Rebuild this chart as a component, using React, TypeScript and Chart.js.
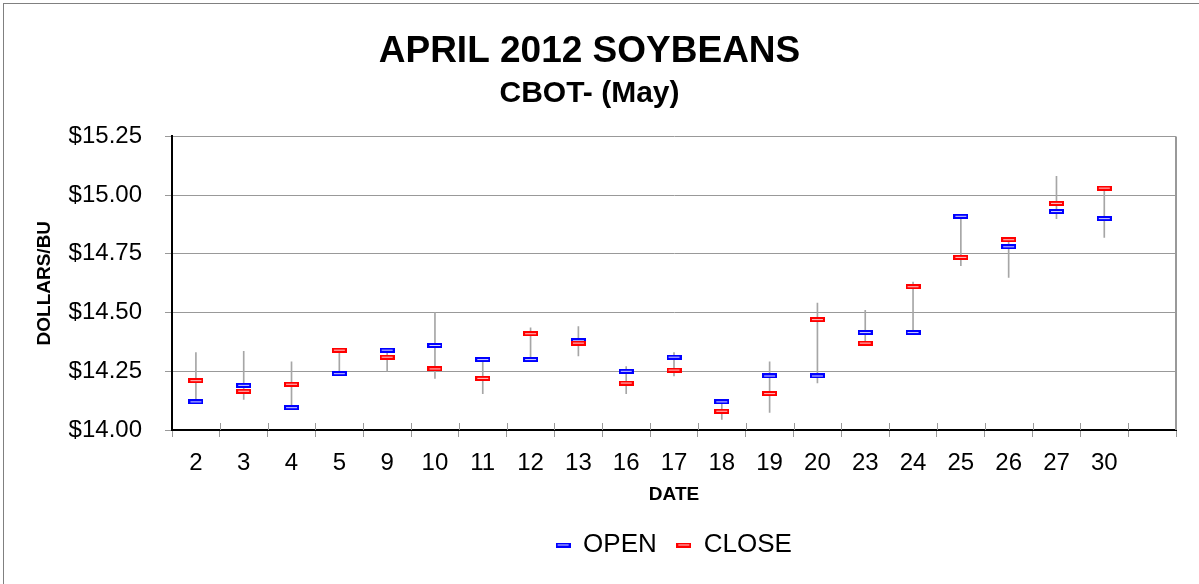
import React, { useEffect, useRef } from "react";
import { Chart, registerables } from "chart.js";

Chart.register(...registerables);

const dateLabels = ["2", "3", "4", "5", "9", "10", "11", "12", "13", "16", "17", "18", "19", "20", "23", "24", "25", "26", "27", "30", ""];
const openValues = [14.12, 14.19, 14.095, 14.24, 14.34, 14.36, 14.30, 14.30, 14.38, 14.25, 14.31, 14.12, 14.23, 14.23, 14.415, 14.415, 14.91, 14.78, 14.93, 14.90, null];
const closeValues = [14.21, 14.165, 14.195, 14.34, 14.31, 14.26, 14.22, 14.41, 14.37, 14.20, 14.255, 14.08, 14.155, 14.47, 14.37, 14.61, 14.735, 14.81, 14.965, 15.03, null];
const highValues = [14.33, 14.335, 14.29, 14.34, 14.34, 14.50, 14.30, 14.435, 14.44, 14.27, 14.33, 14.12, 14.29, 14.54, 14.51, 14.63, 14.91, 14.81, 15.08, 15.03, null];
const lowValues = [14.12, 14.13, 14.095, 14.24, 14.25, 14.22, 14.155, 14.30, 14.315, 14.155, 14.23, 14.045, 14.075, 14.20, 14.36, 14.415, 14.70, 14.65, 14.90, 14.82, null];
const yTicks = [14.0, 14.25, 14.5, 14.75, 15.0, 15.25];

function makeMarker(outer: string, inner: string) {
  const c = document.createElement("canvas");
  c.width = 15;
  c.height = 5;
  const ctx = c.getContext("2d")!;
  ctx.fillStyle = outer;
  ctx.fillRect(0, 0, 15, 5);
  ctx.fillStyle = inner;
  ctx.fillRect(2, 2, 11, 1);
  return c;
}

const framePlugin = {
  id: "frame",
  afterDraw(chart: any) {
    const { ctx, chartArea } = chart;
    const xs = chart.scales.x;
    ctx.save();
    ctx.strokeStyle = "#999999";
    ctx.lineWidth = 2;
    ctx.beginPath();
    ctx.moveTo(chartArea.right, chartArea.top);
    ctx.lineTo(chartArea.right, chartArea.bottom);
    ctx.stroke();
    ctx.lineWidth = 1;
    const n = dateLabels.length;
    const step = (xs.right - xs.left) / n;
    ctx.beginPath();
    for (let i = 1; i <= n; i++) {
      const x = Math.round(xs.left + i * step) + 0.5;
      ctx.moveTo(x, chartArea.bottom - 7);
      ctx.lineTo(x, chartArea.bottom);
    }
    ctx.stroke();
    ctx.restore();
  },
};

export default function App() {
  const ref = useRef<HTMLCanvasElement | null>(null);
  useEffect(() => {
    if (!ref.current) return;
    Chart.defaults.font.family = "'Liberation Sans', Arial, sans-serif";
    Chart.defaults.color = "#000000";
    const blue = makeMarker("#0000ff", "#d8d8ff");
    const red = makeMarker("#ff0000", "#ffd0d0");
    const rangeData = lowValues.map((l, i) => (l == null || highValues[i] == null ? null : [l, highValues[i] as number]));
    const chart = new Chart(ref.current, {
      type: "bar",
      data: {
        labels: dateLabels,
        datasets: [
          {
            type: "line",
            label: "OPEN",
            data: openValues,
            showLine: false,
            pointStyle: blue as any,
            order: 1,
          },
          {
            type: "line",
            label: "CLOSE",
            data: closeValues,
            showLine: false,
            pointStyle: red as any,
            order: 0,
          },
          {
            type: "bar",
            label: "RANGE",
            data: rangeData as any,
            backgroundColor: "#a6a6a6",
            barThickness: 1,
            order: 2,
          },
        ],
      },
      options: {
        responsive: false,
        animation: false,
        layout: { padding: { left: 0, right: 2, top: 0, bottom: 16 } },
        plugins: {
          tooltip: { enabled: false },
          title: {
            display: true,
            text: "APRIL 2012 SOYBEANS",
            font: { size: 37, weight: "bold" },
            padding: { top: 30, bottom: 0 },
          },
          subtitle: {
            display: true,
            text: "CBOT- (May)",
            color: "#000000",
            font: { size: 30, weight: "bold" },
            padding: { top: 1, bottom: 25 },
          },
          legend: {
            position: "bottom",
            fullSize: false,
            labels: {
              usePointStyle: true,
              boxWidth: 14,
              boxHeight: 14,
              padding: 20,
              font: { size: 26 },
              filter: (item: any) => item.text !== "RANGE",
              sort: (a: any, b: any) => a.datasetIndex - b.datasetIndex,
            },
          },
        },
        scales: {
          x: {
            offset: true,
            grid: {
              offset: true,
              drawOnChartArea: false,
              drawTicks: true,
              tickLength: 7,
              color: "#999999",
            },
            border: { color: "#000000", width: 2 },
            ticks: { font: { size: 24 }, padding: 12, maxRotation: 0, autoSkip: false },
            title: {
              display: true,
              text: "DATE",
              font: { size: 19, weight: "bold" },
              padding: { top: 0, bottom: 6 },
            },
            afterFit: (scale: any) => {
              scale.height = 82;
            },
          },
          y: {
            min: 14,
            max: 15.25,
            afterBuildTicks: (scale: any) => {
              scale.ticks = yTicks.map((v) => ({ value: v }));
            },
            grid: { color: "#999999", lineWidth: 1, tickLength: 7 },
            border: { color: "#000000", width: 2 },
            ticks: {
              font: { size: 24 },
              padding: 23,
              callback: (v: any) => "$" + Number(v).toFixed(2),
            },
            title: {
              display: true,
              text: "DOLLARS/BU",
              font: { size: 19, weight: "bold" },
              padding: { top: 33, bottom: 0 },
            },
            afterFit: (scale: any) => {
              scale.width = 172;
            },
          },
        },
      },
      plugins: [framePlugin],
    });
    return () => chart.destroy();
  }, []);

  return (
    <div style={{ position: "fixed", left: 0, top: 0, width: 1199, height: 584, overflow: "hidden", background: "#ffffff" }}>
      <div style={{ position: "absolute", left: 3, top: 3, width: 1300, height: 700, border: "1px solid #808080" }} />
      <canvas ref={ref} width={1181} height={584} style={{ position: "absolute", left: 0, top: 0, width: 1181, height: 584 }} />
    </div>
  );
}
